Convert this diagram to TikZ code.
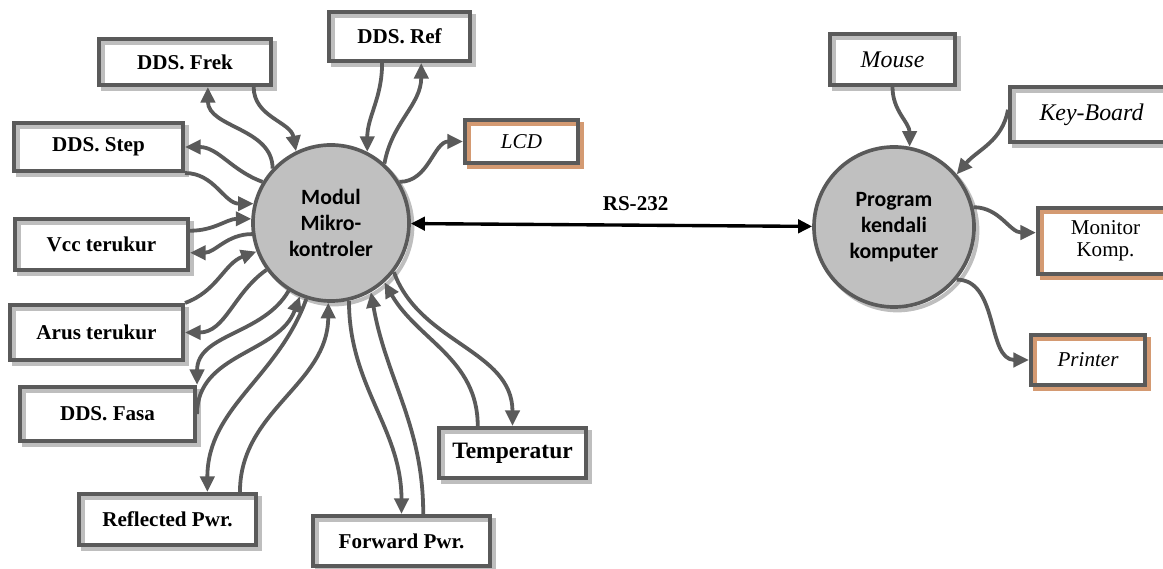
\documentclass[tikz,border=0pt]{standalone}
\usepackage{fontspec}
\setmainfont{Liberation Serif}
\newfontfamily\calib{Carlito}
\usetikzlibrary{arrows.meta,calc}
\definecolor{boxgray}{HTML}{5A5A5A}
\definecolor{shadegray}{HTML}{BEBEBE}
\definecolor{shadeorange}{HTML}{D49A72}
\definecolor{fillgray}{HTML}{C0C0C0}
\tikzset{
  box/.style={draw=boxgray,line width=2.9pt,inner sep=0pt,
    preaction={draw=#1,line width=2.8pt,transform canvas={shift={(2.7pt,-2.7pt)}}},
    font=\fontsize{15}{17}\selectfont\bfseries},
  box/.default=shadegray,
  bubble/.style={circle,draw=boxgray,line width=2.6pt,fill=fillgray,inner sep=0pt,align=center,
    preaction={draw=shadegray,line width=2.8pt,transform canvas={shift={(2.4pt,-2.4pt)}}},
    font=\calib\fontsize{15.5}{18.5}\selectfont\bfseries},
  link/.style={draw=boxgray,line width=2.7pt,-{Triangle[length=11pt,width=10pt]}},
  rslink/.style={draw=black,line width=2.4pt,{Triangle[length=10pt,width=9.5pt]}-{Triangle[length=10pt,width=9.5pt]}}
}
\begin{document}
\begin{tikzpicture}[x=0.025cm,y=0.025cm]
\useasboundingbox (0,0) rectangle (1163,-569);
\node[bubble,minimum size=3.9cm] (mod) at (331,-223) {Modul\\Mikro-\\kontroler};
\node[bubble,minimum size=4cm] (prg) at (894,-227) {Program\\kendali\\komputer};
\node[box,minimum width=4.3cm,minimum height=1.15cm] (frek) at (185,-62) {DDS. Frek};
\node[box,minimum width=3.525cm,minimum height=1.225cm] (ref) at (399.5,-36.5) {DDS. Ref};
\node[box=shadeorange,minimum width=2.825cm,minimum height=1.075cm,font=\fontsize{15}{17}\selectfont\itshape] (lcd) at (521.5,-141.5) {LCD};
\node[box,minimum width=4.225cm,minimum height=1.2cm] (step) at (98.5,-147) {DDS. Step};
\node[box,minimum width=4.325cm,minimum height=1.275cm] (vcc) at (101.5,-244.5) {Vcc terukur};
\node[box,minimum width=4.325cm,minimum height=1.375cm] (arus) at (96.5,-332.5) {Arus terukur};
\node[box,minimum width=4.375cm,minimum height=1.35cm] (fasa) at (107.5,-414) {DDS. Fasa};
\node[box,minimum width=4.425cm,minimum height=1.275cm] (refl) at (167.5,-519.5) {Reflected Pwr.};
\node[box,minimum width=4.425cm,minimum height=1.25cm] (fwd) at (401.5,-541) {Forward Pwr.};
\node[box,minimum width=3.675cm,minimum height=1.25cm,font=\fontsize{16.7}{19}\selectfont\bfseries] (temp) at (512.5,-453) {Temperatur};
\node[box,minimum width=3.125cm,minimum height=1.275cm,font=\fontsize{17}{19}\selectfont\itshape] (mouse) at (892.5,-59.5) {Mouse};
\node[box,minimum width=4.075cm,minimum height=1.375cm,font=\fontsize{17}{19}\selectfont\itshape] (key) at (1091.5,-114.5) {Key-Board};
\node[box=shadeorange,minimum width=3.375cm,minimum height=1.65cm,align=center,font=\fontsize{15}{15.6}\selectfont] (mon) at (1105.5,-241) {Monitor\\Komp.};
\node[box=shadeorange,minimum width=2.85cm,minimum height=1.25cm,font=\fontsize{15}{17}\selectfont\itshape] (prn) at (1088,-360) {Printer};
\draw[rslink] (mod) -- node[above=6pt,pos=.56,font=\fontsize{15}{17}\selectfont\bfseries] (rs) {RS-232} (prg);
\draw[link] (mod.137) to[out=90,in=-90] ($(frek.south west)!.63!(frek.south east)$);
\draw[link] ($(frek.south west)!.89!(frek.south east)$) to[out=-90,in=100] (mod.116);
\draw[link] ($(ref.south west)!.38!(ref.south east)$) to[out=-90,in=90] (mod.63);
\draw[link] (mod.48) to[out=80,in=-90] ($(ref.south west)!.65!(ref.south east)$);
\draw[link] (mod.31) to[out=0,in=180] (lcd.west);
\draw[link] (mod.149) to[out=160,in=0] (step.east);
\draw[link] (step.south east) to[out=0,in=180] (mod.166);
\draw[link] ($(vcc.north east)!.25!(vcc.south east)$) to[out=0,in=180] (mod.177);
\draw[link] (mod.188) to[out=180,in=0] ($(vcc.north east)!.65!(vcc.south east)$);
\draw[link] (arus.north east) to[out=20,in=200] (mod.201);
\draw[link] (mod.216) to[out=215,in=0] (arus.east);
\draw[link] (mod.238) to[out=240,in=90] (fasa.north east);
\draw[link] (fasa.east) to[out=90,in=250] (mod.247);
\draw[link] (mod.252) to[out=250,in=90] ($(refl.north west)!.72!(refl.north east)$);
\draw[link] ($(refl.north west)!.9!(refl.north east)$) to[out=90,in=270] (mod.268);
\draw[link] (mod.283) to[out=-90,in=90] (fwd.north);
\draw[link] ($(fwd.north west)!.62!(fwd.north east)$) to[out=90,in=-80] (mod.300);
\draw[link] ($(temp.north west)!.27!(temp.north east)$) to[out=90,in=-60] (mod.312);
\draw[link] (mod.322) to[out=-70,in=90] (temp.north);
\draw[link] (mouse.south) to[out=-90,in=90] (prg.79);
\draw[link] ($(key.north west)!.42!(key.south west)$) to[out=-100,in=50] (prg.40);
\draw[link] (prg.14) to[out=0,in=180] ($(mon.north west)!.38!(mon.south west)$);
\draw[link] (prg.-40) to[out=0,in=180] (prn.west);
\end{tikzpicture}
\end{document}
